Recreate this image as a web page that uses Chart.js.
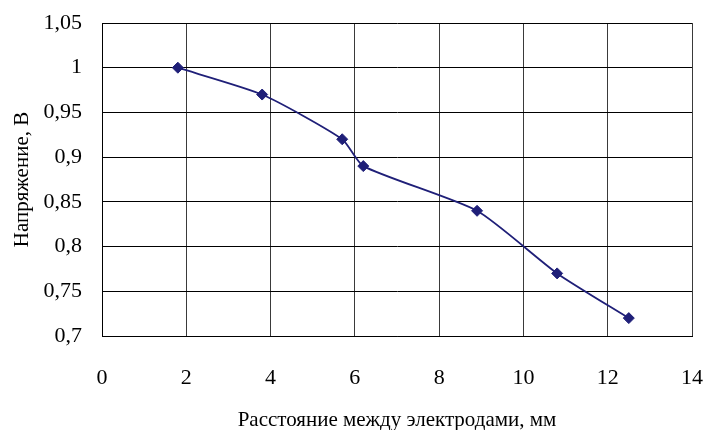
<!DOCTYPE html>
<html>
<head>
<meta charset="utf-8">
<script src="https://cdn.jsdelivr.net/npm/chart.js@4"></script>
<style>
    html, body { margin: 0; padding: 0; background: #ffffff; }
    #wrap { width: 707px; height: 430px; }
</style>
</head>
<body>
<div id="wrap"><canvas id="voltageChart"></canvas></div>
<script>
// Measured data
const distanceMm = [1.8, 3.8, 5.7, 6.2, 8.9, 10.8, 12.5];
const voltageV = [1.0, 0.97, 0.92, 0.89, 0.84, 0.77, 0.72];
const xTicks = [0, 2, 4, 6, 8, 10, 12, 14];
const yTicks = [0.7, 0.75, 0.8, 0.85, 0.9, 0.95, 1.0, 1.05];

const lineColor = '#1f1f78';
const fontFamily = '"Liberation Serif", "Times New Roman", serif';

document.addEventListener('DOMContentLoaded', function() {
    const points = distanceMm.map((x, i) => ({ x: x, y: voltageV[i] }));

    const ctx = document.getElementById('voltageChart').getContext('2d');
    new Chart(ctx, {
        type: 'line',
        data: {
            datasets: [{
                data: points,
                borderColor: lineColor,
                backgroundColor: lineColor,
                borderWidth: 1.8,
                tension: 0.2,
                pointStyle: 'rectRot',
                pointRadius: 5.5,
                pointHoverRadius: 5.5,
                pointBorderWidth: 1,
                fill: false
            }]
        },
        options: {
            responsive: true,
            maintainAspectRatio: false,
            animation: false,
            layout: { padding: { top: 23, right: 15, left: 0, bottom: 0 } },
            plugins: {
                legend: { display: false },
                tooltip: { enabled: false }
            },
            scales: {
                x: {
                    type: 'linear',
                    min: 0,
                    max: 14,
                    afterBuildTicks: s => { s.ticks = xTicks.map(v => ({ value: v })); },
                    afterFit: s => {
                        s.height = 94;
                        s.paddingLeft = 0;
                        s.paddingRight = 0;
                    },
                    grid: { color: '#3a3a3a', drawTicks: false },
                    border: { color: '#000000', width: 1 },
                    ticks: {
                        color: '#000000',
                        padding: 29,
                        maxRotation: 0,
                        font: { family: fontFamily, size: 22 }
                    },
                    title: {
                        display: true,
                        text: 'Расстояние между электродами, мм',
                        color: '#000000',
                        font: { family: fontFamily, size: 21 },
                        padding: { top: 0, bottom: -3 }
                    }
                },
                y: {
                    min: 0.7,
                    max: 1.05,
                    afterBuildTicks: s => { s.ticks = yTicks.map(v => ({ value: v })); },
                    afterFit: s => {
                        s.width = 102;
                        s.paddingTop = 0;
                        s.paddingBottom = 0;
                    },
                    grid: { color: '#000000', drawTicks: false },
                    border: { color: '#000000', width: 1 },
                    ticks: {
                        color: '#000000',
                        padding: 20,
                        font: { family: fontFamily, size: 22 },
                        callback: v => String(Number(v.toFixed(2))).replace('.', ',')
                    },
                    title: {
                        display: true,
                        text: 'Напряжение, В',
                        color: '#000000',
                        font: { family: fontFamily, size: 21 },
                        padding: { top: 10, bottom: 0 }
                    }
                }
            }
        }
    });
});
</script>
</body>
</html>
